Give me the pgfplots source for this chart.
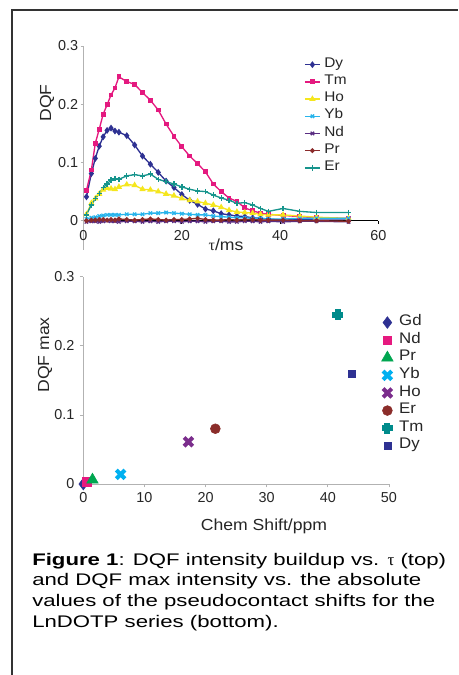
\documentclass[border=0pt]{standalone}
\usepackage{fontspec}
\setmainfont{Liberation Sans}
\newfontfamily\chfont{Liberation Sans}[FakeStretch=1.1]
\newfontfamily\tkfont{Liberation Sans}
\newfontfamily\capfont{Liberation Sans}[FakeStretch=1.32]
\newfontfamily\symfont{Liberation Serif}
\usepackage{pgfplots}
\usepackage{pgfplotstable}
\pgfplotsset{compat=1.18}

% series colours
\definecolor{cDy}{RGB}{46,49,146}
\definecolor{cTm}{RGB}{228,25,127}
\definecolor{cHo}{RGB}{245,230,30}
\definecolor{cYb}{RGB}{40,180,235}
\definecolor{cNd}{RGB}{90,45,130}
\definecolor{cPr}{RGB}{139,43,43}
\definecolor{cEr}{RGB}{22,148,140}
\definecolor{bGd}{RGB}{46,49,146}
\definecolor{bNd}{RGB}{230,25,127}
\definecolor{bPr}{RGB}{0,166,80}
\definecolor{bYb}{RGB}{0,176,240}
\definecolor{bHo}{RGB}{123,45,140}
\definecolor{bEr}{RGB}{139,45,42}
\definecolor{bTm}{RGB}{0,139,139}
\definecolor{bDy}{RGB}{46,49,146}

% DQF buildup vs tau (ms)
\pgfplotstableread{
t     Dy     Tm     Ho     Yb     Nd      Pr      Er
0.6   0.041  0.052  0.011  0.003  -0.002  0.000   0.010
1.6   0.081  0.087  0.030  0.005  -0.001  0.001   0.027
2.4   0.107  0.133  0.038  0.006  -0.001  0.001   0.038
3.2   0.128  0.157  0.046  0.008  -0.002  0.002   0.047
4.0   0.144  0.183  0.053  0.009  -0.001  0.002   0.057
4.8   0.155  0.199  0.056  0.010  0.000   0.001   0.063
5.6   0.159  0.216  0.055  0.010  -0.001  0.002   0.070
6.4   0.154  0.228  0.054  0.010  -0.001  0.001   0.072
7.2   0.152  0.247  0.058  0.010  -0.002  0.003   0.071
8.8   0.146  0.239  0.062  0.011  -0.001  0.002   0.077
10.4  0.130  0.234  0.061  0.011  -0.001  0.001   0.079
12.0  0.111  0.220  0.054  0.011  -0.002  0.002   0.077
13.6  0.097  0.207  0.053  0.013  -0.001  0.003   0.080
15.2  0.083  0.190  0.050  0.013  -0.002  0.002   0.071
16.8  0.068  0.166  0.046  0.014  -0.001  0.001   0.067
18.4  0.057  0.145  0.043  0.013  -0.001  0.002   0.063
20.0  0.045  0.127  0.038  0.012  -0.002  0.002   0.058
21.6  0.035  0.111  0.035  0.011  -0.001  0.003   0.054
23.2  0.028  0.098  0.033  0.010  -0.001  0.004   0.051
24.8  0.020  0.084  0.030  0.010  -0.002  0.002   0.050
26.4  0.017  0.063  0.027  0.008  -0.001  0.001   0.044
28.0  0.012  0.050  0.023  0.007  -0.001  0.001   0.039
29.6  0.010  0.039  0.018  0.006  -0.002  0.002   0.035
31.2  0.008  0.033  0.015  0.005  -0.002  0.001   0.030
32.8  0.007  0.022  0.014  0.005  -0.001  0.002   0.031
34.4  0.005  0.017  0.013  0.004  -0.001  0.002   0.027
36.0  0.004  0.013  0.011  0.004  -0.002  0.001   0.021
37.6  0.003  0.011  0.010  0.003  -0.001  0.001   0.016
40.6  0.001  0.009  0.010  0.003  -0.002  0.001   0.021
44.0  0.002  0.007  0.008  0.004  -0.001  0.000   0.016
47.4  0.003  0.005  0.006  0.004  -0.001  0.000   0.014
53.9  0.003  0.004  0.004  0.004  -0.002  -0.001  0.014
}\buildup

\begin{document}
\begin{tikzpicture}
\useasboundingbox (0,0) rectangle (343.5pt,-506.25pt);

% pixel coordinates of the 458x675 page, y downwards
\begin{scope}[x=0.75pt,y=-0.75pt]
  \draw[line width=1.5pt, black!80] (12,675) -- (12,10) -- (458,10);
  \begin{scope}[font=\chfont\fontsize{12}{14}\selectfont, text=black!85]
    \node[rotate=90, inner sep=0pt] at (47,103) {DQF};
    \node[anchor=base, inner sep=0pt] at (226,250) {{\symfont τ}/ms};
    \node[rotate=90, inner sep=0pt] at (45,355) {DQF max};
    \node[anchor=base, inner sep=0pt] at (264,530) {Chem Shift/ppm};
  \end{scope}
  \begin{scope}[font=\capfont\fontsize{12.6}{15}\selectfont, inner sep=0pt, anchor=base west]
    \node at (32,565) {\textbf{Figure 1}: DQF intensity buildup vs. {\symfont τ} (top)};
    \node at (32,585.7) {and DQF max intensity vs. the absolute};
    \node at (32,606.3) {values of the pseudocontact shifts for the};
    \node at (32,627) {LnDOTP series (bottom).};
  \end{scope}
\end{scope}

% top: buildup curves
\begin{axis}[
    at={(62.625pt,-187.35pt)}, anchor=south west,
    scale only axis, width=221.25pt, height=152.85pt,
    xmin=0, xmax=60, ymin=-0.05, ymax=0.3,
    axis x line*=middle, axis y line*=left,
    hide obscured x ticks=false, hide obscured y ticks=false,
    xtick={0,20,40,60}, ytick={0,0.1,0.2,0.3},
    tick align=outside, major tick length=2.25pt,
    x axis line style={black, line width=1.1pt},
    y axis line style={gray!60, line width=0.6pt},
    xtick style={black, line width=0.6pt}, ytick style={gray!60, line width=0.6pt},
    /pgf/number format/assume math mode=true,
    ticklabel style={font=\tkfont\fontsize{10.8}{13}\selectfont, text=black!85, inner sep=0pt},
    xticklabel style={yshift=-4.5pt},
    yticklabel style={xshift=-1.5pt},
    every axis plot/.append style={line width=1pt},
    legend image code/.code={\draw[mark repeat=2,mark phase=2,#1] plot coordinates {(0pt,0pt) (5.6pt,0pt) (11.25pt,0pt)};},
    legend cell align=left,
    legend style={at={(axis description cs:0.7475,0.952)}, anchor=north west,
        draw=none, fill=none, inner sep=0pt,
        font=\chfont\fontsize{10.5}{12}\selectfont, text=black!85,
        nodes={inner sep=0pt, text height=8.5pt, text depth=4.4pt},
        /tikz/every odd column/.append style={column sep=2.8pt}},
]
\addplot[color=cDy, mark=diamond*, mark size=1.8pt] table[x=t, y=Dy] {\buildup};
\addlegendentry{Dy}
\addplot[color=cTm, mark=square*, mark size=1.3pt] table[x=t, y=Tm] {\buildup};
\addlegendentry{Tm}
\addplot[color=cHo, mark=triangle*, mark size=1.8pt] table[x=t, y=Ho] {\buildup};
\addlegendentry{Ho}
\addplot[color=cYb, mark=x, mark size=1.8pt] table[x=t, y=Yb] {\buildup};
\addlegendentry{Yb}
\addplot[color=cNd, mark=x, mark size=1.8pt] table[x=t, y=Nd] {\buildup};
\addlegendentry{Nd}
\addplot[color=cPr, mark=*, mark size=1.3pt] table[x=t, y=Pr] {\buildup};
\addlegendentry{Pr}
\addplot[color=cEr, mark=+, mark size=2pt] table[x=t, y=Er] {\buildup};
\addlegendentry{Er}
\end{axis}

% bottom: DQF max vs chemical shift
\begin{axis}[
    at={(62.475pt,-363pt)}, anchor=south west,
    scale only axis, width=229.275pt, height=155.475pt,
    xmin=0, xmax=50, ymin=0, ymax=0.3,
    axis lines*=left, clip=false,
    xtick={0,10,20,30,40,50}, ytick={0,0.1,0.2,0.3},
    tick align=outside, major tick length=2.5pt,
    axis line style={gray!60, line width=0.6pt},
    tick style={gray!60, line width=0.6pt},
    /pgf/number format/assume math mode=true,
    ticklabel style={font=\tkfont\fontsize{10.8}{13}\selectfont, text=black!85, inner sep=0pt},
    xticklabel style={yshift=-4pt},
    yticklabel style={xshift=-4pt},
    legend image code/.code={\draw[mark repeat=2,mark phase=2,#1] plot coordinates {(-6pt,0pt) (0pt,0pt) (6pt,0pt)};},
    legend cell align=left,
    legend style={at={(axis description cs:0.975,0.8225)}, anchor=north west,
        draw=none, fill=none, inner sep=0pt,
        font=\chfont\fontsize{11.5}{13}\selectfont, text=black!85,
        nodes={inner sep=0pt, text height=9pt, text depth=4.2pt},
        /tikz/every odd column/.append style={column sep=4.5pt}},
]
\addplot[only marks, mark=diamond*, mark size=4.4pt, color=bGd] coordinates {(0,0)};
\addlegendentry{Gd}
\addplot[only marks, mark=square*, mark size=3.2pt, color=bNd] coordinates {(0.55,0.0034)};
\addlegendentry{Nd}
\addplot[only marks, mark=triangle*, mark size=5pt, color=bPr] coordinates {(1.5,0.006)};
\addlegendentry{Pr}
\addplot[only marks, mark=x, mark size=4.6pt, line width=3pt, color=bYb] coordinates {(6.1,0.014)};
\addlegendentry{Yb}
\addplot[only marks, mark=x, mark size=4.6pt, line width=3pt, color=bHo] coordinates {(17.2,0.061)};
\addlegendentry{Ho}
\addplot[only marks, mark=*, mark size=3.7pt, color=bEr] coordinates {(21.6,0.080)};
\addlegendentry{Er}
\addplot[only marks, mark=+, mark size=4pt, line width=4.5pt, color=bTm] coordinates {(41.6,0.245)};
\addlegendentry{Tm}
\addplot[only marks, mark=square*, mark size=2.6pt, color=bDy] coordinates {(43.9,0.159)};
\addlegendentry{Dy}
\end{axis}
\end{tikzpicture}
\end{document}
